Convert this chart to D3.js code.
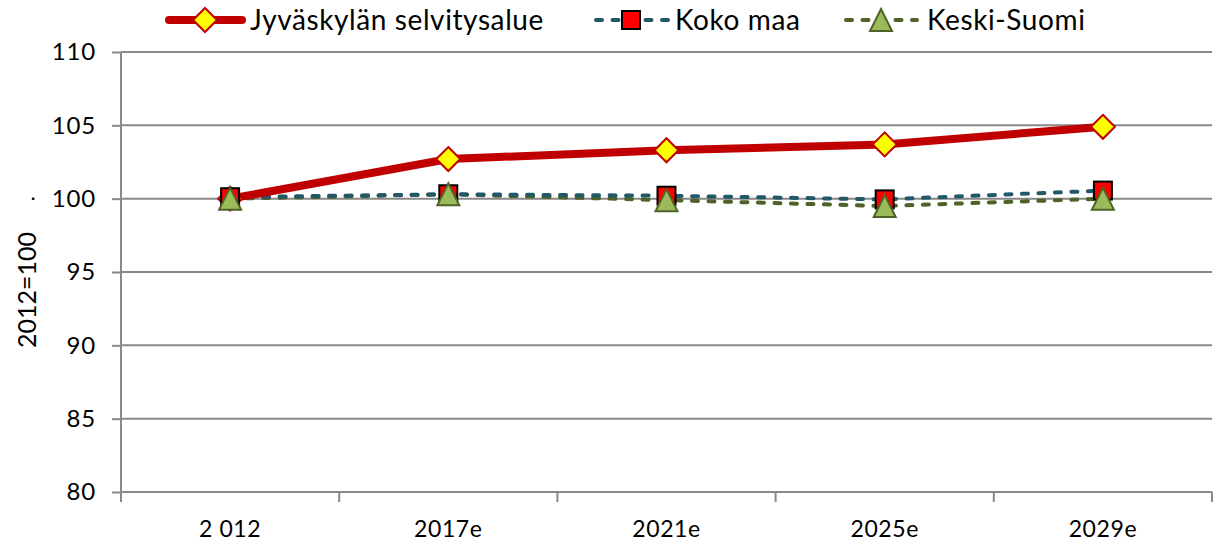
<!DOCTYPE html>
<html><head><meta charset="utf-8">
<script src="https://cdn.jsdelivr.net/npm/d3@7"></script>
<style>
body{margin:0;background:#fff;}
text{font-family:Lato,"Open Sans",sans-serif;fill:#000;}
</style></head>
<body><svg id="c" width="1217" height="544"></svg>
<script>
const categories = ["2 012","2017e","2021e","2025e","2029e"];
const jyvaskyla = [100.0, 102.7, 103.3, 103.7, 104.9];
const kokoMaa = [100.1, 100.3, 100.2, 99.95, 100.55];
const keskiSuomi = [100.0, 100.3, 99.9, 99.5, 100.0];
const yTicks = [80,85,90,95,100,105,110];
const seriesNames = ["Jyväskylän selvitysalue","Koko maa","Keski-Suomi"];

const svg = d3.select("#c");
const L=121, R=1212, T=52, B=492;
const x = d3.scaleBand().domain(categories).range([L,R]);
const y = d3.scaleLinear().domain([80,110]).range([B,T]);
const grey="#898989";
const dash = "6,10.5";

// gridlines
svg.append("g").selectAll("line").data(yTicks).join("line")
  .attr("x1",L).attr("x2",R).attr("y1",d=>y(d)).attr("y2",d=>y(d))
  .attr("stroke",grey).attr("stroke-width",2);

// y axis
const ya = svg.append("g").attr("transform",`translate(${L},0)`)
  .call(d3.axisLeft(y).tickValues(yTicks).tickSize(9).tickPadding(8).tickFormat(d3.format("d")));
ya.select(".domain").attr("stroke",grey).attr("stroke-width",2).attr("d",`M-0,${B}V${T}`);
ya.selectAll(".tick line").attr("stroke",grey).attr("stroke-width",2);
ya.selectAll(".tick text").style("font-size","24px").style("letter-spacing","0.8px").attr("dx","-8");

// x axis
const xa = svg.append("g").attr("transform",`translate(0,${B})`)
  .call(d3.axisBottom(x).tickSize(0).tickPadding(22));
xa.select(".domain").attr("stroke",grey).attr("stroke-width",2).attr("d",`M${L},0H${R}`);
xa.selectAll(".tick text").style("font-size","23px").style("letter-spacing","0.6px").attr("dy","1.0em");
const bounds = categories.map((c,i)=>x(c)).concat([R]);
svg.append("g").selectAll("line").data(bounds).join("line")
  .attr("x1",d=>d).attr("x2",d=>d).attr("y1",B).attr("y2",B+10)
  .attr("stroke",grey).attr("stroke-width",2);

// y title
svg.append("text").attr("transform","translate(36,290) rotate(-90)")
  .attr("text-anchor","middle").style("font-size","25px").text("2012=100");
svg.append("text").attr("x",33).attr("y",204).attr("text-anchor","middle")
  .style("font-size","18px").text("·");

const cx = d => x(d)+x.bandwidth()/2;
const line = d3.line().x((d,i)=>cx(categories[i])).y(d=>y(d));

// Keski-Suomi line
svg.append("path").datum(keskiSuomi).attr("d",line).attr("fill","none")
  .attr("stroke","#4F6228").attr("stroke-width",4).attr("stroke-dasharray",dash).attr("stroke-linecap","round");
// Koko maa line
svg.append("path").datum(kokoMaa).attr("d",line).attr("fill","none")
  .attr("stroke","#215968").attr("stroke-width",4).attr("stroke-dasharray",dash).attr("stroke-linecap","round");
// Jyväskylä line
svg.append("path").datum(jyvaskyla).attr("d",line).attr("fill","none")
  .attr("stroke","#C00000").attr("stroke-width",8);

const sq = 18, dia = 12, tri = 11;
function square(g,cx0,cy0){g.append("rect").attr("x",cx0-sq/2).attr("y",cy0-sq/2).attr("width",sq).attr("height",sq)
  .attr("fill","#FF0000").attr("stroke","#000").attr("stroke-width",2);}
function diamond(g,cx0,cy0){g.append("path").attr("d",`M${cx0},${cy0-dia}L${cx0+dia},${cy0}L${cx0},${cy0+dia}L${cx0-dia},${cy0}Z`)
  .attr("fill","#FFFF00").attr("stroke","#C00000").attr("stroke-width",2);}
function triangle(g,cx0,cy0){g.append("path").attr("d",`M${cx0},${cy0-tri}L${cx0+tri},${cy0+tri}L${cx0-tri},${cy0+tri}Z`)
  .attr("fill","#9BBB59").attr("stroke","#4F6228").attr("stroke-width",2);}

const mk = svg.append("g");
jyvaskyla.forEach((v,i)=>diamond(mk,cx(categories[i]),y(v)));
kokoMaa.forEach((v,i)=>square(mk,cx(categories[i]),y(v)));
keskiSuomi.forEach((v,i)=>triangle(mk,cx(categories[i]),y(v)));

// legend
const lg = svg.append("g");
const lfs = "28px", lls = "0.6px";
lg.append("line").attr("x1",169).attr("x2",242).attr("y1",20).attr("y2",20)
  .attr("stroke","#C00000").attr("stroke-width",8).attr("stroke-linecap","round");
diamond(lg,205,20);
lg.append("text").attr("x",250).attr("y",30).style("font-size",lfs).style("letter-spacing",lls).text(seriesNames[0]);
lg.append("line").attr("x1",596).attr("x2",668).attr("y1",20).attr("y2",20)
  .attr("stroke","#215968").attr("stroke-width",4).attr("stroke-dasharray",dash).attr("stroke-linecap","round");
square(lg,631,20);
lg.append("text").attr("x",675).attr("y",30).style("font-size",lfs).style("letter-spacing",lls).text(seriesNames[1]);
lg.append("line").attr("x1",846).attr("x2",917).attr("y1",20).attr("y2",20)
  .attr("stroke","#4F6228").attr("stroke-width",4).attr("stroke-dasharray",dash).attr("stroke-linecap","round");
triangle(lg,881,20);
lg.append("text").attr("x",927).attr("y",30).style("font-size",lfs).style("letter-spacing",lls).text(seriesNames[2]);
</script></body></html>
